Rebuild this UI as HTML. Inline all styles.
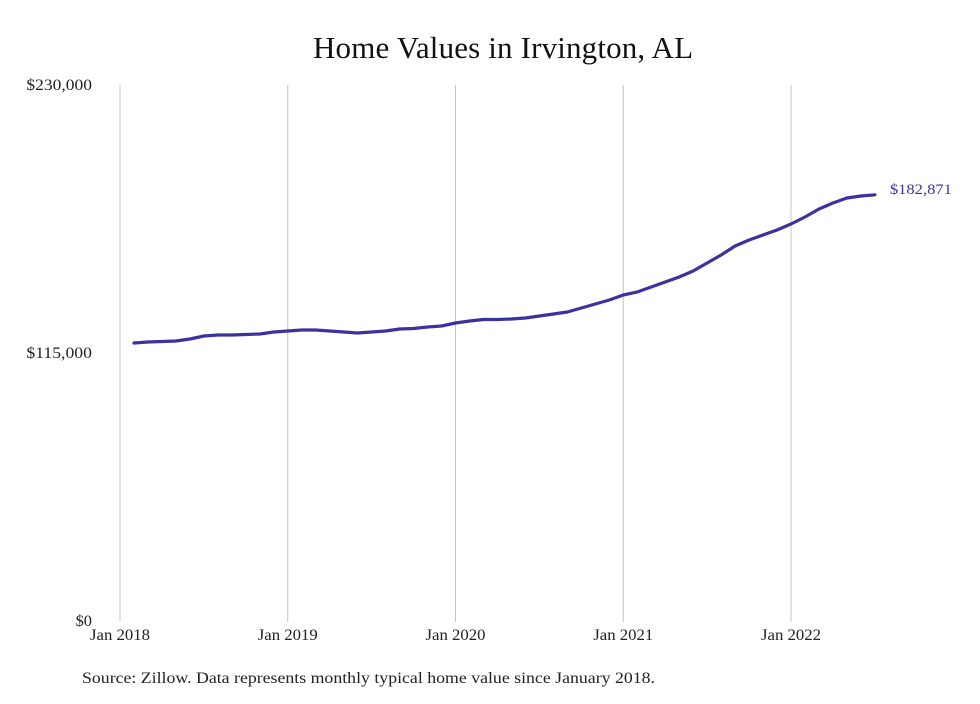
<!DOCTYPE html>
<html><head><meta charset="utf-8"><style>
body{margin:0;background:#fff;}
svg text{font-family:"Liberation Serif",serif;}
</style></head><body>
<svg id="chart" width="980" height="699">
<rect width="980" height="699" fill="#fff"/>
<text x="503" y="58" font-size="31" text-anchor="middle" textLength="380" fill="#111">Home Values in Irvington, AL</text>
<g id="grid"></g><g id="yaxis"></g><g id="xaxis"></g><g id="series"></g>
<text x="82" y="683" font-size="15.5" textLength="573" lengthAdjust="spacingAndGlyphs" fill="#222">Source: Zillow. Data represents monthly typical home value since January 2018.</text>
</svg>
<script>
const yTicks=[0,115000,230000];
const yTickLabels=["$0","$115,000","$230,000"];
const xTickYears=[2018,2019,2020,2021,2022];
const xTickLabels=["Jan 2018","Jan 2019","Jan 2020","Jan 2021","Jan 2022"];
const startMonth=1; // Feb 2018 as months since Jan 2018
const values=[119290,119720,119930,120150,121010,122290,122720,122720,122940,123150,124010,124440,124870,124870,124440,124010,123580,124010,124440,125300,125510,126160,126590,127870,128730,129370,129370,129590,130020,130880,131730,132590,134310,136030,137740,139890,141170,143320,145470,147610,150190,153620,157050,160910,163490,165630,167780,170360,173360,176790,179370,181510,182370,182871];
const endLabel="$182,871";
const NS="http://www.w3.org/2000/svg";
const x=m=>120+m*(791-120)/48;
const y=v=>621-v*(621-85)/230000;
function mk(t,a,p){const e=document.createElementNS(NS,t);for(const k in a)e.setAttribute(k,a[k]);p.appendChild(e);return e;}
const grid=document.getElementById('grid'),ya=document.getElementById('yaxis'),xa=document.getElementById('xaxis'),se=document.getElementById('series');
xTickYears.forEach((yr,i)=>{
 const xx=x((yr-2018)*12);
 const l=mk('line',{x1:xx,x2:xx,y1:85,y2:622,stroke:'#c4c4c4','stroke-width':1},grid);
 
 
 const t=mk('text',{x:xx,y:640,'font-size':15.5,'text-anchor':'middle',textLength:60,lengthAdjust:'spacingAndGlyphs',fill:'#222'},xa);
 t.textContent=xTickLabels[i];
 
 
});
yTicks.forEach((v,i)=>{
 const len=yTickLabels[i].length*8.2;
 const t=mk('text',{x:92,y:y(v)+5,'font-size':15.5,'text-anchor':'end',textLength:len,lengthAdjust:'spacingAndGlyphs',fill:'#222'},ya);
 t.textContent=yTickLabels[i];
 
 
});
const pts=values.map((v,i)=>x(startMonth+i).toFixed(1)+','+y(v).toFixed(1)).join(' ');
const pl=mk('polyline',{points:pts,fill:'none',stroke:'#3b32a0','stroke-width':3.2,'stroke-linejoin':'round','stroke-linecap':'round'},se);


const last=values.length-1;
const lt=mk('text',{x:x(startMonth+last)+15,y:y(values[last])-1,'font-size':15,textLength:62,lengthAdjust:'spacingAndGlyphs',fill:'#3b32a0'},se);
lt.textContent=endLabel;


</script>
</body></html>
